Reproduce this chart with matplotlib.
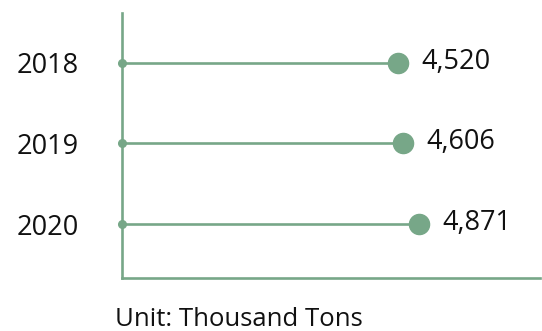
import matplotlib
matplotlib.use("Agg")
import matplotlib.pyplot as plt

# Data
years = ["2018", "2019", "2020"]
values = [4520, 4606, 4871]
value_labels = ["4,520", "4,606", "4,871"]
unit_label = "Unit: Thousand Tons"

GREEN = "#77a788"
plt.rcParams["font.family"] = ["Open Sans", "DejaVu Sans"]

fig = plt.figure(figsize=(5.42, 3.31), dpi=100)
ax = fig.add_axes([122 / 542, 1 - 278 / 331, 418 / 542, 265 / 331])

rows = list(range(len(years)))

# stems, small dots at the axis and big dots at the value
for y, v in zip(rows, values):
    ax.plot([0, v], [y, y], color=GREEN, lw=1.9, solid_capstyle="butt", zorder=2)
ax.plot([0] * len(rows), rows, "o", color=GREEN, ms=5.5, zorder=3, clip_on=False)
ax.plot(values, rows, "o", color=GREEN, ms=14.5, zorder=3)

for y, v, lab in zip(rows, values, value_labels):
    ax.annotate(lab, (v, y), xytext=(17, 1), textcoords="offset points",
                ha="left", va="center", fontsize=19.5, color="#111111")

ax.set_xlim(0, 6850)
ax.set_ylim(2.67, -0.62)

ax.set_yticks(rows)
ax.set_yticklabels(years, fontsize=19.5, color="#111111")
ax.tick_params(axis="y", length=0, pad=31)
ax.set_xticks([])

for side in ["top", "right"]:
    ax.spines[side].set_visible(False)
for side in ["left", "bottom"]:
    ax.spines[side].set_color(GREEN)
    ax.spines[side].set_linewidth(1.9)

fig.text(239 / 542, 1 - 319 / 331, unit_label, ha="center", va="center",
         fontsize=18.5, color="#111111")

fig.savefig("out.png", dpi=100)
